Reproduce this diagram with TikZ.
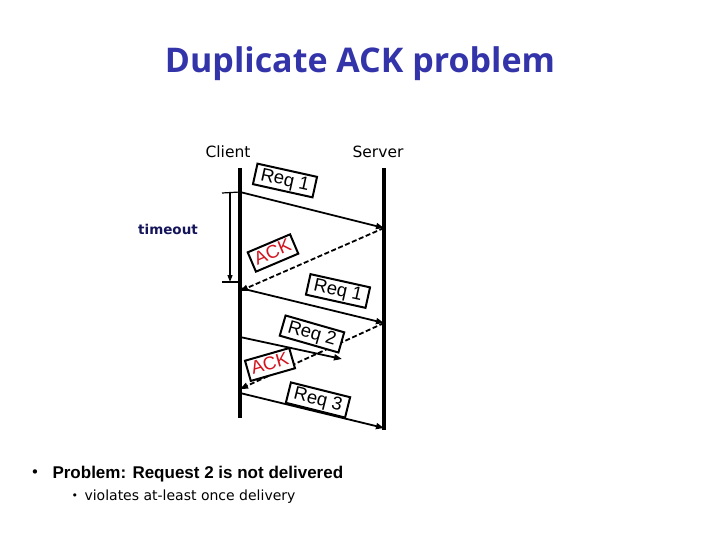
\documentclass[tikz,border=0pt]{standalone}
\usepackage{fontspec}
\setmainfont{Liberation Sans}
\newfontfamily\titlefont{Open Sans}
\newfontfamily\labfont{DejaVu Sans}
\usetikzlibrary{arrows.meta}
\definecolor{titleblue}{RGB}{51,51,170}
\definecolor{navy}{RGB}{20,20,90}
\definecolor{ackred}{RGB}{210,20,30}
\tikzset{
  life/.style={line width=3.4pt},
  msg/.style={line width=1.8pt,-{Triangle[length=8pt,width=6pt]}},
  lost/.style={msg,dash pattern=on 5pt off 2.5pt},
  lbox/.style={draw,line width=2pt,fill=white,inner sep=1.5pt,font=\fontsize{18.5}{18.5}\selectfont,text height=14pt,text depth=4pt,minimum width=61pt},
}
\begin{document}
\begin{tikzpicture}[x=1pt,y=-1pt]
\useasboundingbox (0,0) rectangle (720,540);
% title
\node (title) at (360,64) {\titlefont\bfseries\fontsize{34}{34}\selectfont\textcolor{titleblue}{Duplicate ACK problem}};
% lifelines
\coordinate (ctop) at (240,168);
\coordinate (cbot) at (240,418);
\coordinate (stop) at (384,168);
\coordinate (sbot) at (384,430);
\draw[life] (ctop) -- (cbot);
\draw[life] (stop) -- (sbot);
\node[font=\labfont\fontsize{15.5}{15.5}\selectfont] (client) at (228,152) {Client};
\node[font=\labfont\fontsize{15.5}{15.5}\selectfont] (server) at (378,152) {Server};
% message points
\coordinate (c1) at (240,192);
\coordinate (s1) at (384,228);
\coordinate (c2) at (240,291);
\coordinate (c3) at (240,288);
\coordinate (s3) at (384,323);
\coordinate (c4) at (240,337);
\coordinate (m4) at (342,359);
\coordinate (c5) at (240,389);
\coordinate (c6) at (240,393);
\coordinate (s6) at (384,428);
\draw[msg] (c1) -- (s1);
\draw[lost] (s1) -- (c2);
\draw[msg] (c3) -- (s3);
\draw[msg] (c4) -- (m4);
\draw[lost] (s3) -- (c5);
\draw[msg] (c6) -- (s6);
% timeout
\coordinate (t1) at (230,193);
\coordinate (t2) at (230,282);
\draw[line width=1.2pt] (222,193) -- (c1);
\draw[line width=1.2pt] (222,282) -- (240,282);
\draw[line width=1.2pt,-{Triangle[length=7pt,width=5pt]}] (t1) -- (t2);
\node[font=\labfont\bfseries\fontsize{13.5}{13.5}\selectfont,text=navy] (timeout) at (168,229) {timeout};
% labels
\node[lbox,rotate=-12.5] (req1a) at (285,180.5) {Req 1};
\node[lbox,rotate=23,minimum width=46pt,text=ackred] (ack1) at (273,253) {ACK};
\node[lbox,rotate=-12.5] (req1b) at (338,291) {Req 1};
\node[lbox,rotate=-16] (req2) at (312,334) {Req 2};
\node[lbox,rotate=16,minimum width=46pt,text=ackred] (ack2) at (270,364.5) {ACK};
\node[lbox,rotate=-14] (req3) at (318,400) {Req 3};
% bullets
\node[anchor=west,font=\labfont\fontsize{15}{15}\selectfont] (b1) at (27,474) {•};
\node[anchor=west,font=\bfseries\fontsize{17}{17}\selectfont] (p1) at (49,474) {Problem: Request 2 is not delivered};
\node[anchor=west,font=\labfont\fontsize{11}{11}\selectfont] (b2) at (68,497) {•};
\node[anchor=west,font=\labfont\fontsize{14}{14}\selectfont] (p2) at (81,497) {violates at-least once delivery};
\end{tikzpicture}
\end{document}
